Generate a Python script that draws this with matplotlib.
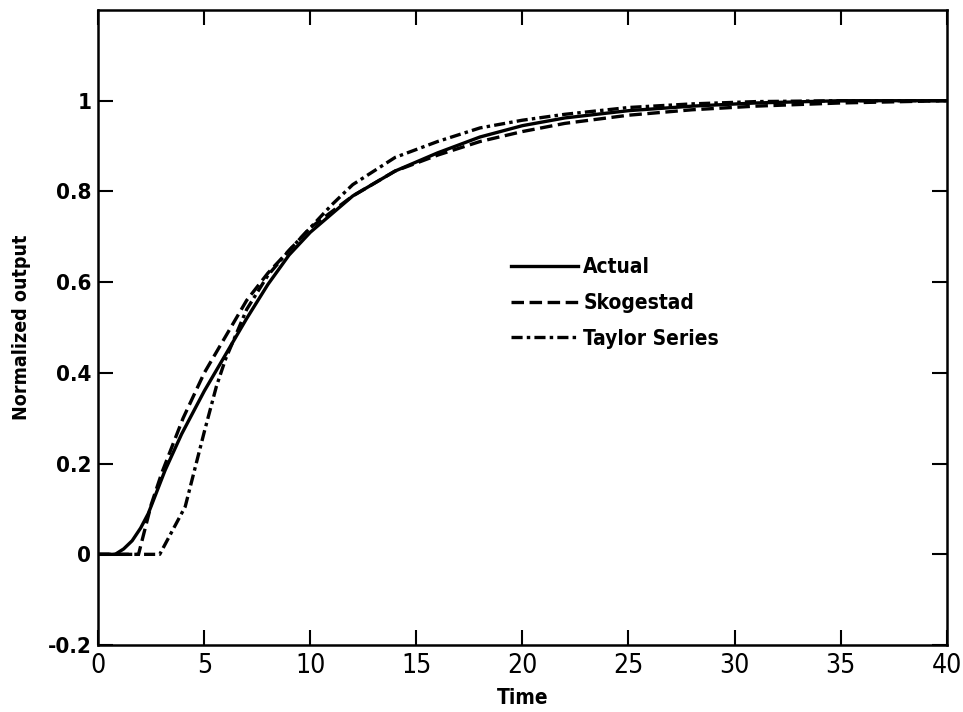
import numpy as np
import matplotlib
matplotlib.use('Agg')
import matplotlib.pyplot as plt

plt.rcParams['font.family'] = ['DejaVu Sans']
plt.rcParams['font.stretch'] = 'condensed'
plt.rcParams['lines.scale_dashes'] = False

# values
t_actual = [0, 0.8, 1.2, 1.6, 2.0, 2.36, 3.15, 3.93, 5, 6, 7, 8, 9, 10, 12, 14, 16, 18, 20, 22, 25, 28, 31, 35, 40]
y_actual = [0, 0, 0.012, 0.03, 0.058, 0.09, 0.185, 0.265, 0.36, 0.44, 0.52, 0.595, 0.66, 0.71, 0.79, 0.845,
            0.885, 0.92, 0.945, 0.962, 0.978, 0.988, 0.995, 1.0, 1.0]

t_skog = [0, 1.9, 2.5, 3, 4, 5, 6, 7, 8, 9, 10, 12, 14, 16, 18, 20, 22, 25, 28, 31, 35, 40]
y_skog = [0, 0, 0.11, 0.18, 0.30, 0.40, 0.48, 0.56, 0.62, 0.67, 0.72, 0.79, 0.845, 0.88, 0.91,
          0.932, 0.95, 0.968, 0.98, 0.988, 0.995, 1.0]

t_taylor = [0, 2.9, 4.1, 5, 5.57, 6, 7, 8, 9, 10, 11, 12, 14, 16, 18, 20, 22, 25, 28, 31, 35, 40]
y_taylor = [0, 0, 0.105, 0.27, 0.37, 0.43, 0.54, 0.615, 0.67, 0.72, 0.77, 0.815, 0.875, 0.91, 0.94,
            0.957, 0.97, 0.985, 0.993, 0.998, 1.0, 1.0]

xticks = [0, 5, 10, 15, 20, 25, 30, 35, 40]
yticks = [-0.2, 0, 0.2, 0.4, 0.6, 0.8, 1.0]
ytick_labels = ['-0.2', '0', '0.2', '0.4', '0.6', '0.8', '1']

fig = plt.figure(figsize=(9.63, 7.12), dpi=100)
ax = fig.add_axes([0.102, 0.094, 0.881, 0.892])

ax.plot(t_actual, y_actual, color='black', lw=2.4, label='Actual')
ax.plot(t_skog, y_skog, color='black', lw=2.4, dashes=(9, 4), label='Skogestad')
ax.plot(t_taylor, y_taylor, color='black', lw=2.4, dashes=(8, 3, 2.5, 3), label='Taylor Series')

ax.set_xlim(0, 40)
ax.set_ylim(-0.2, 1.2)
ax.set_xticks(xticks)
ax.set_xticklabels([str(v) for v in xticks])
ax.set_yticks(yticks)
ax.set_yticklabels(ytick_labels, fontweight='bold')

ax.tick_params(direction='in', length=11, width=1.5, top=True, right=True,
               colors='black')
ax.tick_params(axis='x', labelsize=19, pad=6)
ax.tick_params(axis='y', labelsize=16, pad=5)
for sp in ax.spines.values():
    sp.set_linewidth(1.8)

ax.set_xlabel('Time', fontsize=15, labelpad=6, fontweight='bold')
ax.set_ylabel('Normalized output', fontsize=14, labelpad=12, fontweight='bold')

ax.legend(loc='upper left', bbox_to_anchor=(0.465, 0.64), frameon=False,
          prop={'size': 15, 'weight': 'bold', 'stretch': 'condensed'},
          handlelength=3.2, handletextpad=0.25, labelspacing=0.75)

fig.savefig('out.png', dpi=100)
